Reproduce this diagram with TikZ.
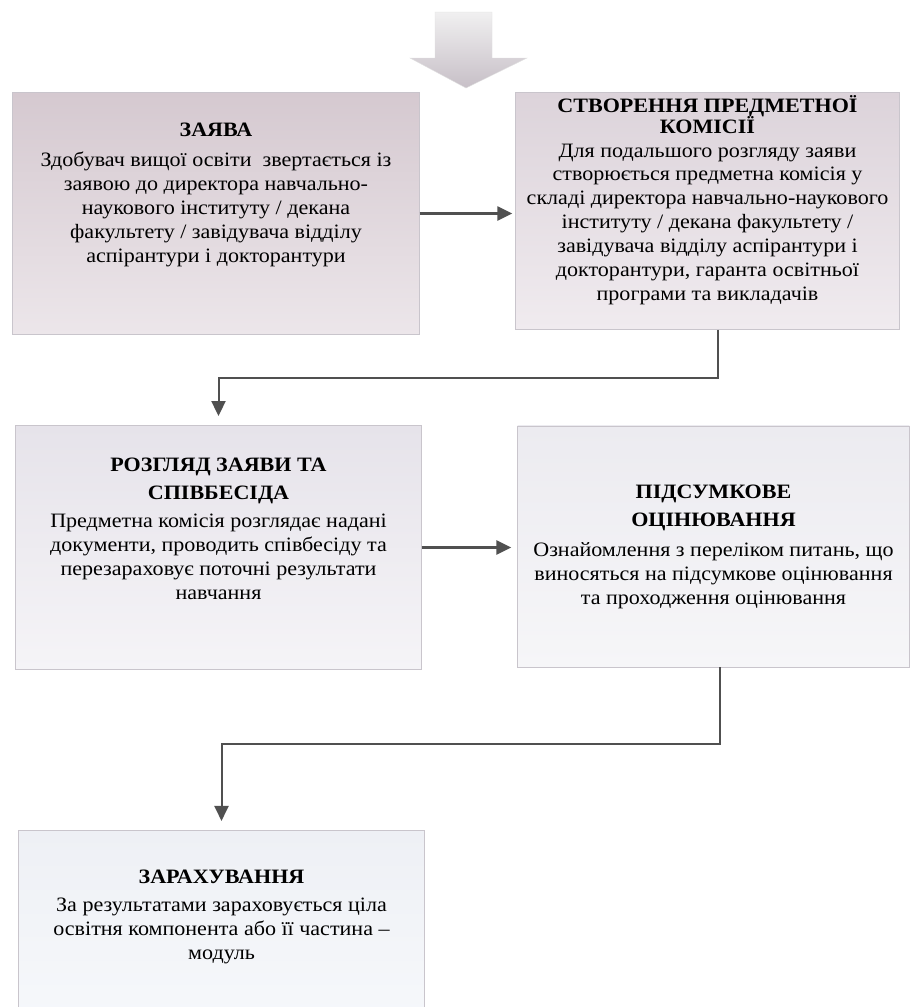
\documentclass[tikz,border=0pt]{standalone}
\usepackage{fontspec}
\setmainfont{Liberation Serif}[FakeStretch=1.08]
\usepackage{tikz}
\usetikzlibrary{arrows.meta}
\usetikzlibrary{shapes.geometric}
\definecolor{boxedge}{HTML}{C9C5CC}
\definecolor{linkgrey}{HTML}{505050}
\begin{document}
\begin{tikzpicture}[x=1bp, y=-1bp, line join=miter]
	\tikzstyle{stepbox}=[rectangle, draw=boxedge, line width=0.8bp, inner sep=0pt]
	\tikzstyle{stepbody}=[align=center, inner sep=0pt, font=\fontsize{20.5}{24}\selectfont]
	\tikzstyle{link}=[draw=linkgrey, line width=2.4bp, -{Triangle[length=15bp,width=14bp]}]
	\tikzstyle{elbow}=[draw=linkgrey, line width=2bp, -{Triangle[length=15bp,width=14bp]}, shorten >=9bp]

	\useasboundingbox (0,0) rectangle (913,1007);
	\fill[white] (0,0) rectangle (913,1007);

	% Draw the entry arrow
	\shade[top color=magenta!4!black!6!white, bottom color=magenta!12!black!25!white, draw=black!12]
		(435,12) -- (492,12) -- (492,58) -- (527,58) -- (466,88) -- (410,58) -- (435,58) -- cycle;

	% Draw the steps
	\node[stepbox, minimum width=408, minimum height=243, top color={rgb,255:red,213;green,201;blue,208}, bottom color={rgb,255:red,236;green,230;blue,234}] (zayava) at (216,213.5) {};
	\node[stepbox, minimum width=385, minimum height=238, top color={rgb,255:red,220;green,211;blue,218}, bottom color={rgb,255:red,240;green,235;blue,239}] (komisiya) at (707.5,211) {};
	\node[stepbox, minimum width=407, minimum height=245, top color={rgb,255:red,230;green,227;blue,234}, bottom color={rgb,255:red,245;green,244;blue,247}] (rozglyad) at (218.5,547.5) {};
	\node[stepbox, minimum width=393, minimum height=242, top color={rgb,255:red,236;green,235;blue,240}, bottom color={rgb,255:red,246;green,246;blue,248}] (otsinyuvannya) at (713.5,546.5) {};
	\node[stepbox, minimum width=407, minimum height=190, top color={rgb,255:red,238;green,240;blue,245}, bottom color={rgb,255:red,246;green,248;blue,251}] (zarakhuvannya) at (221.5,925) {};

	% Texts of the steps
	\node[stepbody] (zayava-txt) at (216,195) {\textbf{ЗАЯВА}\\[6bp]
		Здобувач вищої освіти\ \ звертається із\\
		заявою до директора навчально-\\
		наукового інституту / декана\\
		факультету / завідувача відділу\\
		аспірантури і докторантури};
	\node[stepbody] (komisiya-txt) at (707.5,200) {\textbf{СТВОРЕННЯ ПРЕДМЕТНОЇ}\\[-3bp]
		\textbf{КОМІСІЇ}\\[0bp]
		Для подальшого розгляду заяви\\
		створюється предметна комісія у\\
		складі директора навчально-наукового\\
		інституту / декана факультету /\\
		завідувача відділу аспірантури і\\
		докторантури, гаранта освітньої\\
		програми та викладачів};
	\node[stepbody] (rozglyad-txt) at (218.5,529) {\textbf{РОЗГЛЯД ЗАЯВИ ТА}\\[4bp]
		\textbf{СПІВБЕСІДА}\\[4bp]
		Предметна комісія розглядає надані\\
		документи, проводить співбесіду та\\
		перезараховує поточні результати\\
		навчання};
	\node[stepbody] (otsinyuvannya-txt) at (713.5,547) {\textbf{ПІДСУМКОВЕ}\\[4bp]
		\textbf{ОЦІНЮВАННЯ}\\[6bp]
		Ознайомлення з переліком питань, що\\
		виносяться на підсумкове оцінювання\\
		та проходження оцінювання};
	\node[stepbody] (zarakhuvannya-txt) at (221.5,917) {\textbf{ЗАРАХУВАННЯ}\\[4bp]
		За результатами зараховується ціла\\
		освітня компонента або її частина –\\
		модуль};

	% Draw arrows
	\draw[link] (zayava.east) -- ([xshift=-3bp]zayava.east -| komisiya.west);
	\draw[link] (rozglyad.east) -- ([xshift=-6bp]rozglyad.east -| otsinyuvannya.west);
	\draw[elbow] ([xshift=10.5bp]komisiya.south) -- ++(0,48) -| (rozglyad.north);
	\draw[elbow] ([xshift=6.5bp]otsinyuvannya.south) -- ++(0,77) -| (zarakhuvannya.north);
\end{tikzpicture}
\end{document}
